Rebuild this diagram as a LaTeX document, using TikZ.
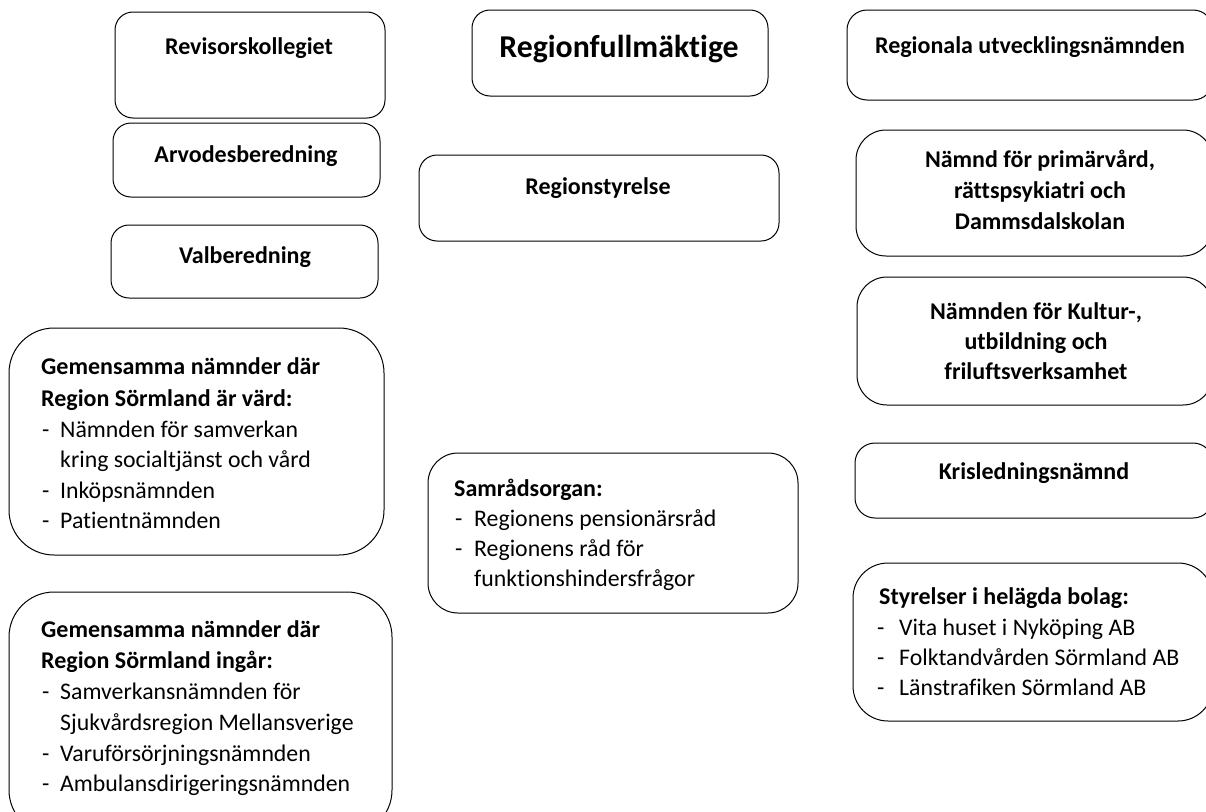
\documentclass[tikz,border=0pt]{standalone}
\usepackage{fontspec}
\setmainfont[Ligatures={NoCommon,NoRequired}]{Carlito}
\usetikzlibrary{fit}
\begin{document}
\begin{tikzpicture}[x=1pt,y=-1pt,
  bx/.style={draw=black, line width=1pt, inner sep=0pt, rounded corners=#1},
  tb/.style={inner sep=0pt, font=\fontsize{24}{30}\bfseries\selectfont},
  tn/.style={inner sep=0pt, font=\fontsize{23.8}{30}\selectfont},
  tt/.style={inner sep=0pt, font=\fontsize{31.8}{38}\bfseries\selectfont}]
\useasboundingbox (0,0) rectangle (1206,811);
\clip (0,0) rectangle (1206,811);
\newcommand\li[4]{\node[tn,anchor=base west] at (#1,#3) {-};\node[tn,anchor=base west] at (#2,#3) {#4};}
% boxes
\node[bx=18, fit={(115,12) (385,118)}] (rev) {};
\node[bx=18, fit={(472,10) (768,96)}] (rf) {};
\node[bx=20, fit={(847,10) (1213,100)}] (ru) {};
\node[bx=18, fit={(113,123) (380,197)}] (arv) {};
\node[bx=18, fit={(419,155) (779,241)}] (rs) {};
\node[bx=30, fit={(856,130) (1213,256)}] (npr) {};
\node[bx=18, fit={(111,225) (378,298)}] (val) {};
\node[bx=30, fit={(857,277) (1213,405)}] (kul) {};
\node[bx=45, fit={(9,328) (384,555)}] (gv) {};
\node[bx=20, fit={(855,443) (1213,518)}] (kris) {};
\node[bx=30, fit={(428,453) (798,613)}] (sam) {};
\node[bx=35, fit={(853,563) (1213,721)}] (sty) {};
\node[bx=45, fit={(9,592) (392,835)}] (gi) {};
% texts
\node[tb,anchor=base] (trev) at (249,54) {Revisorskollegiet};
\node[tt,anchor=base] (trf) at (619,57) {Regionfullmäktige};
\node[tb,anchor=base] (tru) at (1030,53) {Regionala utvecklingsnämnden};
\node[tb,anchor=base] (tarv) at (246,162) {Arvodesberedning};
\node[tb,anchor=base] (trs) at (598,194) {Regionstyrelse};
\node[tb,anchor=base] at (1040,167) {Nämnd för primärvård,};
\node[tb,anchor=base] at (1040,198) {rättspsykiatri och};
\node[tb,anchor=base] at (1040,229) {Dammsdalskolan};
\node[tb,anchor=base] (tval) at (245,263) {Valberedning};
\node[tb,anchor=base] at (1036,319) {Nämnden för Kultur-,};
\node[tb,anchor=base] at (1036,349) {utbildning och};
\node[tb,anchor=base] at (1036,379) {friluftsverksamhet};
\node[tb,anchor=base] (tkris) at (1034,479) {Krisledningsnämnd};
% Samrådsorgan
\node[tb,anchor=base west] at (454,496) {Samrådsorgan:};
\li{455}{474}{526}{Regionens pensionärsråd}
\li{455}{474}{556}{Regionens råd för}
\node[tn,anchor=base west] at (474,586) {funktionshindersfrågor};
% Gemensamma värd
\node[tb,anchor=base west] at (41,374) {Gemensamma nämnder där};
\node[tb,anchor=base west] at (41,406) {Region Sörmland är värd:};
\li{42}{60}{437}{Nämnden för samverkan}
\node[tn,anchor=base west] at (60,467) {kring socialtjänst och vård};
\li{42}{60}{498}{Inköpsnämnden}
\li{42}{60}{528}{Patientnämnden}
% Gemensamma ingår
\node[tb,anchor=base west] at (41,637) {Gemensamma nämnder där};
\node[tb,anchor=base west] at (41,668) {Region Sörmland ingår:};
\li{42}{60}{699}{Samverkansnämnden för}
\node[tn,anchor=base west] at (60,730) {Sjukvårdsregion Mellansverige};
\li{42}{60}{761}{Varuförsörjningsnämnden}
\li{42}{60}{791}{Ambulansdirigeringsnämnden}
% Styrelser
\node[tb,anchor=base west] at (879,604) {Styrelser i helägda bolag:};
\li{877}{899}{635}{Vita huset i Nyköping AB}
\li{877}{899}{665}{Folktandvården Sörmland AB}
\li{877}{899}{695}{Länstrafiken Sörmland AB}
\end{tikzpicture}
\end{document}
